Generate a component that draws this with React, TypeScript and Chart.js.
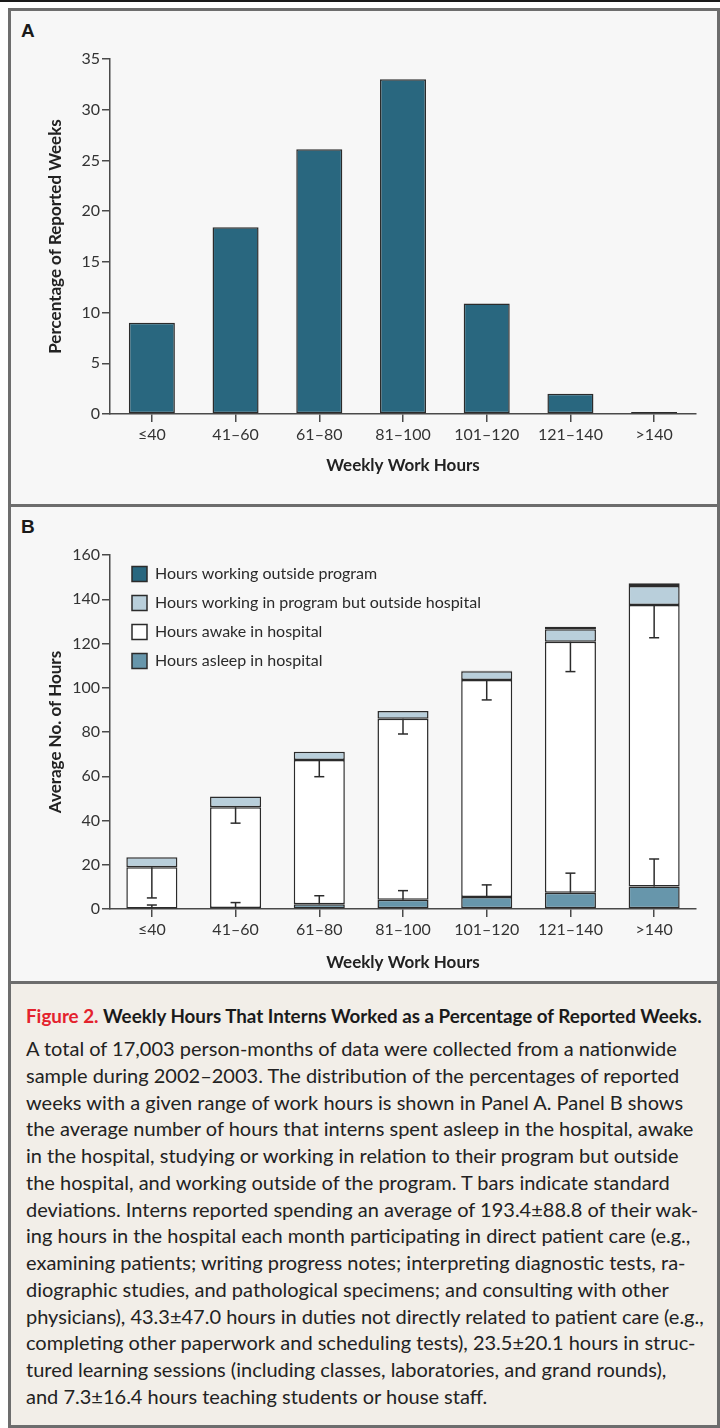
import React, { useEffect, useRef } from "react";
import { Chart, registerables } from "chart.js";

Chart.register(...registerables);
Chart.defaults.font.family = "Lato, 'Open Sans', sans-serif";
Chart.defaults.color = "#2a2a2a";

// ---------- data ----------
const hourBins = ["≤40", "41–60", "61–80", "81–100", "101–120", "121–140", ">140"];
const pctReportedWeeks = [9.0, 18.4, 26.1, 33.0, 10.9, 2.0, 0.2];
const percentTicks = [0, 5, 10, 15, 20, 25, 30, 35];

const asleepHours = [0.2, 0.5, 2.1, 4.2, 5.4, 7.4, 10.2];
const asleepSD = [1.6, 2.4, 3.9, 4.1, 5.5, 8.8, 12.4];
const awakeHours = [18.7, 45.5, 65.2, 81.8, 98.1, 113.4, 127.2];
const awakeSD = [13.9, 7.2, 7.5, 6.9, 9.0, 13.5, 14.8];
const programOutsideHours = [4.5, 4.8, 3.8, 3.5, 4.0, 5.6, 8.6];
const outsideProgramHours = [0, 0, 0, 0, 0.2, 1.2, 1.2];
const hoursTicks = [0, 20, 40, 60, 80, 100, 120, 140, 160];

const seriesNames = [
  "Hours asleep in hospital",
  "Hours awake in hospital",
  "Hours working in program but outside hospital",
  "Hours working outside program",
];

const captionTitleLead = "Figure 2.";
const captionTitle = "Weekly Hours That Interns Worked as a Percentage of Reported Weeks.";
const captionLines = [
  "A total of 17,003 person-months of data were collected from a nationwide",
  "sample during 2002–2003. The distribution of the percentages of reported",
  "weeks with a given range of work hours is shown in Panel A. Panel B shows",
  "the average number of hours that interns spent asleep in the hospital, awake",
  "in the hospital, studying or working in relation to their program but outside",
  "the hospital, and working outside of the program. T bars indicate standard",
  "deviations. Interns reported spending an average of 193.4±88.8 of their wak-",
  "ing hours in the hospital each month participating in direct patient care (e.g.,",
  "examining patients; writing progress notes; interpreting diagnostic tests, ra-",
  "diographic studies, and pathological specimens; and consulting with other",
  "physicians), 43.3±47.0 hours in duties not directly related to patient care (e.g.,",
  "completing other paperwork and scheduling tests), 23.5±20.1 hours in struc-",
  "tured learning sessions (including classes, laboratories, and grand rounds),",
  "and 7.3±16.4 hours teaching students or house staff.",
];

// ---------- styles ----------
const AXIS = "#4a4a4a";
const TICK_TEXT = "#333333";
const TITLE_TEXT = "#222222";
const EDGE = "#2b2b2b";
const C_DARK = "#29677f";
const C_LIGHT = "#b9cfdb";
const C_WHITE = "#ffffff";
const C_SLEEP = "#6796ab";

const tickFont = { size: 16 };
const titleFont = { size: 17, weight: "bold" as const };

function yScale(max: number, step: number, title: string) {
  return {
    min: 0,
    max,
    ticks: { stepSize: step, font: tickFont, color: TICK_TEXT, padding: 2 },
    grid: { drawOnChartArea: false, drawTicks: true, tickLength: 8, color: AXIS, lineWidth: 1.5 },
    border: { display: true, color: AXIS, width: 1.5 },
    title: { display: true, text: title, font: titleFont, color: TITLE_TEXT, padding: { top: 35, bottom: 0 } },
    afterFit: (s: any) => {
      s.width = 100;
    },
  };
}

function xScale(height: number, titlePadBottom: number) {
  return {
    grid: { display: true, drawOnChartArea: false, drawTicks: true, tickLength: 8, offset: false, color: AXIS, lineWidth: 1.5 },
    border: { display: true, color: AXIS, width: 1.5 },
    ticks: { font: tickFont, color: TICK_TEXT, padding: 3, maxRotation: 0, autoSkip: false },
    title: { display: true, text: "Weekly Work Hours", font: titleFont, color: TITLE_TEXT, padding: { top: 0, bottom: titlePadBottom } },
    afterFit: (s: any) => {
      s.height = height;
    },
  };
}

const tBarPlugin = {
  id: "tBars",
  afterDatasetsDraw(chart: any) {
    const { ctx } = chart;
    const x = chart.scales.x;
    const y = chart.scales.y;
    const cap = 5;
    ctx.save();
    ctx.strokeStyle = EDGE;
    ctx.lineWidth = 1.5;
    const seg = (x1: number, y1: number, x2: number, y2: number) => {
      ctx.beginPath();
      ctx.moveTo(x1, y1);
      ctx.lineTo(x2, y2);
      ctx.stroke();
    };
    hourBins.forEach((_, i) => {
      const cx = x.getPixelForValue(i);
      const s0 = y.getPixelForValue(asleepHours[i]);
      const s1 = y.getPixelForValue(asleepHours[i] + asleepSD[i]);
      seg(cx, s0, cx, s1);
      seg(cx - cap, s1, cx + cap, s1);
      const top = asleepHours[i] + awakeHours[i];
      const w0 = y.getPixelForValue(top);
      const w1 = y.getPixelForValue(top - awakeSD[i]);
      seg(cx, w0, cx, w1);
      seg(cx - cap, w1, cx + cap, w1);
    });
    ctx.restore();
  },
};

// place the in-plot legend inside the chart area (vertical legends get top = 0 otherwise)
const legendPlacePlugin = {
  id: "legendPlace",
  afterLayout(chart: any) {
    if (chart.legend) {
      chart.legend.left = chart.chartArea.left + 9;
      chart.legend.top = chart.chartArea.top - 2;
    }
  },
};

function PanelA() {
  const ref = useRef<HTMLCanvasElement | null>(null);
  useEffect(() => {
    if (!ref.current) return;
    const chart = new Chart(ref.current, {
      type: "bar",
      data: {
        labels: hourBins,
        datasets: [
          {
            label: "Percentage of reported weeks",
            data: pctReportedWeeks,
            backgroundColor: C_DARK,
            borderColor: EDGE,
            borderWidth: 1.5,
            borderSkipped: false,
            barPercentage: 0.55,
            categoryPercentage: 1,
          },
        ],
      },
      options: {
        responsive: false,
        animation: false,
        layout: { padding: { left: 0, top: 49, right: 20, bottom: 0 } },
        plugins: { legend: { display: false }, tooltip: { enabled: false } },
        scales: {
          x: xScale(90, 28) as any,
          y: {
            ...yScale(35, 5, "Percentage of Reported Weeks"),
            afterBuildTicks: (s: any) => {
              s.ticks = percentTicks.map((v) => ({ value: v }));
            },
          } as any,
        },
      },
    });
    return () => chart.destroy();
  }, []);
  return <canvas ref={ref} width={706} height={494} style={{ position: "absolute", left: 10, top: 10, width: 706, height: 494 }} />;
}

function PanelB() {
  const ref = useRef<HTMLCanvasElement | null>(null);
  useEffect(() => {
    if (!ref.current) return;
    const common = { borderColor: EDGE, borderWidth: 1.5, borderSkipped: false, barPercentage: 0.61, categoryPercentage: 1 };
    const chart = new Chart(ref.current, {
      type: "bar",
      data: {
        labels: hourBins,
        datasets: [
          { label: seriesNames[0], data: asleepHours, backgroundColor: C_SLEEP, ...common },
          { label: seriesNames[1], data: awakeHours, backgroundColor: C_WHITE, ...common },
          { label: seriesNames[2], data: programOutsideHours, backgroundColor: C_LIGHT, ...common },
          { label: seriesNames[3], data: outsideProgramHours, backgroundColor: C_DARK, ...common },
        ] as any,
      },
      options: {
        responsive: false,
        animation: false,
        layout: { padding: { left: 0, top: 48, right: 20, bottom: 0 } },
        plugins: {
          tooltip: { enabled: false },
          legend: {
            display: true,
            position: "chartArea",
            align: "start",
            reverse: true,
            labels: { boxWidth: 15, boxHeight: 15, padding: 13, font: { size: 16 }, color: "#2a2a2a" },
          },
        },
        scales: {
          x: { ...xScale(72, 8), stacked: true } as any,
          y: {
            ...yScale(160, 20, "Average No. of Hours"),
            stacked: true,
            afterBuildTicks: (s: any) => {
              s.ticks = hoursTicks.map((v) => ({ value: v }));
            },
          } as any,
        },
      },
      plugins: [tBarPlugin, legendPlacePlugin],
    });
    return () => chart.destroy();
  }, []);
  return <canvas ref={ref} width={706} height={474} style={{ position: "absolute", left: 10, top: 507, width: 706, height: 474 }} />;
}

const GRAY = "#6d6d6d";

export default function App() {
  return (
    <div style={{ position: "absolute", left: 0, top: 0, width: 720, height: 1428, background: "#ffffff", overflow: "hidden", fontFamily: "Lato, 'Open Sans', sans-serif" }}>
      <div style={{ position: "absolute", left: 0, top: 0, width: 720, height: 2, background: "#1a1a1a" }} />
      <div style={{ position: "absolute", left: 8, top: 8, width: 712, height: 1420, boxSizing: "border-box", border: `3px solid ${GRAY}`, background: "#f7f7f7" }} />
      <div style={{ position: "absolute", left: 8, top: 504, width: 712, height: 3, background: GRAY }} />
      <div style={{ position: "absolute", left: 11, top: 984, width: 706, height: 441, background: "#f2eee8" }} />
      <div style={{ position: "absolute", left: 8, top: 981, width: 712, height: 3, background: GRAY }} />
      <div style={{ position: "absolute", left: 21, top: 20, fontFamily: "'Liberation Sans', Arial, sans-serif", fontWeight: "bold", fontSize: 19, color: "#1a1a1a" }}>A</div>
      <div style={{ position: "absolute", left: 21, top: 516, fontFamily: "'Liberation Sans', Arial, sans-serif", fontWeight: "bold", fontSize: 19, color: "#1a1a1a" }}>B</div>
      <PanelA />
      <PanelB />
      <div style={{ position: "absolute", left: 26, top: 1003, whiteSpace: "nowrap", fontSize: 18.8, lineHeight: "26.75px", fontWeight: "bold", color: "#1a1a1a" }}>
        <span style={{ color: "#e4222d" }}>{captionTitleLead}</span> {captionTitle}
      </div>
      <div style={{ position: "absolute", left: 26, top: 1035, fontSize: 20, lineHeight: "26.75px", color: "#222222" }}>
        {captionLines.map((l, i) => (
          <div key={i} style={{ whiteSpace: "nowrap", height: 26.75 }}>
            {l}
          </div>
        ))}
      </div>
    </div>
  );
}
